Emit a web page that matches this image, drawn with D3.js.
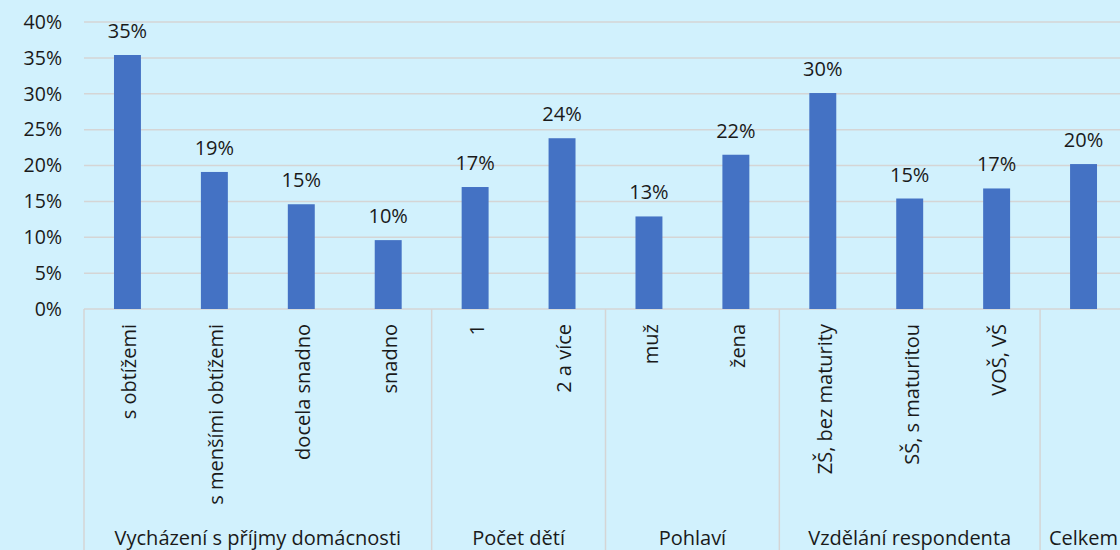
<!DOCTYPE html>
<html>
<head>
<meta charset="utf-8">
<script src="https://cdn.jsdelivr.net/npm/d3@7"></script>
<style>
  html, body { margin: 0; padding: 0; background: #d1f1fd; overflow: hidden; }
  svg { display: block; font-family: "Open Sans", "Noto Sans", sans-serif; }
</style>
</head>
<body>
<script>
// Chart data
const categories = ['s obtížemi', 's menšími obtížemi', 'docela snadno', 'snadno',
    '1', '2 a více', 'muž', 'žena',
    'ZŠ, bez maturity', 'SŠ, s maturitou', 'VOŠ, VŠ', ''];
const groups = ['Vycházení s příjmy domácnosti', 'Počet dětí', 'Pohlaví', 'Vzdělání respondenta', 'Celkem'];
const groupSizes = [4, 2, 2, 3, 1];
const values = [0.354, 0.191, 0.146, 0.096, 0.170, 0.238, 0.129, 0.215, 0.301, 0.154, 0.168, 0.202];
const yTicks = [0, 0.05, 0.10, 0.15, 0.20, 0.25, 0.30, 0.35, 0.40];

const width = 1120, height = 550;
const margin = { top: 22, left: 84, bottom: 241 };
const plotRight = 1127;
const fontSize = 20;
const textColor = '#1a1a1a';

const svg = d3.select('body').append('svg')
    .attr('width', width)
    .attr('height', height);

const idx = d3.range(categories.length);
const x = d3.scaleBand().domain(idx).range([margin.left, plotRight]).paddingInner(0.69).paddingOuter(0.345);
const y = d3.scaleLinear().domain([0, 0.4]).range([height - margin.bottom, margin.top]);
const step = x.step();

// gridlines
svg.append('g')
    .selectAll('line')
    .data(yTicks)
    .join('line')
    .attr('x1', margin.left)
    .attr('x2', plotRight)
    .attr('y1', d => y(d))
    .attr('y2', d => y(d))
    .attr('stroke', '#d5d5d5')
    .attr('stroke-width', 1.5);

// y axis labels
const yAxis = d3.axisLeft(y).tickValues(yTicks).tickFormat(d3.format('.0%')).tickSize(0).tickPadding(22);
svg.append('g')
    .attr('transform', `translate(${margin.left},0)`)
    .call(yAxis)
    .call(g => g.select('.domain').remove())
    .call(g => g.selectAll('text').attr('font-size', fontSize - 0.5).attr('fill', textColor).attr('font-family', '"Open Sans", sans-serif'));

// bars
svg.append('g')
    .selectAll('rect')
    .data(values)
    .join('rect')
    .attr('x', (d, i) => x(i))
    .attr('y', d => y(d))
    .attr('width', x.bandwidth())
    .attr('height', d => y(0) - y(d))
    .attr('fill', '#4472c4');

// value labels
svg.append('g')
    .selectAll('text')
    .data(values)
    .join('text')
    .attr('x', (d, i) => x(i) + x.bandwidth() / 2)
    .attr('y', d => y(d) - 17)
    .attr('text-anchor', 'middle')
    .attr('font-size', fontSize)
    .attr('fill', textColor)
    .text(d => d3.format('.0%')(d));

// category labels (rotated)
svg.append('g')
    .selectAll('text')
    .data(categories)
    .join('text')
    .attr('transform', (d, i) => `translate(${x(i) + x.bandwidth() / 2 + 2},${y(0) + 15}) rotate(-90)`)
    .attr('dy', '0.35em')
    .attr('text-anchor', 'end')
    .attr('font-size', fontSize)
    .attr('fill', textColor)
    .text(d => d);

// group separators and labels
const bounds = [0];
groupSizes.forEach(s => bounds.push(bounds[bounds.length - 1] + s));
const sepX = b => margin.left + b * step;

svg.append('g')
    .selectAll('line')
    .data(bounds)
    .join('line')
    .attr('x1', d => sepX(d))
    .attr('x2', d => sepX(d))
    .attr('y1', y(0))
    .attr('y2', height)
    .attr('stroke', '#d5d5d5')
    .attr('stroke-width', 1.5);

svg.append('g')
    .selectAll('text')
    .data(groups)
    .join('text')
    .attr('x', (d, i) => (sepX(bounds[i]) + sepX(bounds[i + 1])) / 2)
    .attr('y', 545)
    .attr('text-anchor', 'middle')
    .attr('font-size', fontSize)
    .attr('fill', textColor)
    .text(d => d);
</script>
</body>
</html>
